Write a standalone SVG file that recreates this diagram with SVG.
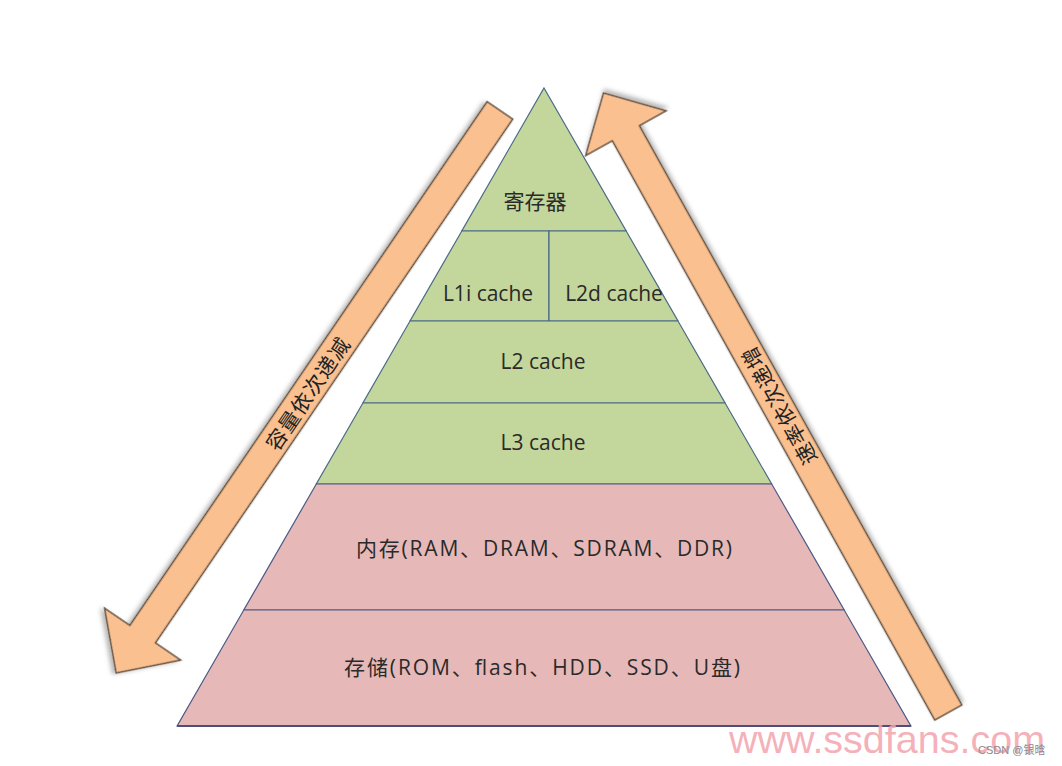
<svg xmlns="http://www.w3.org/2000/svg" width="1062" height="766" viewBox="0 0 1062 766">
<defs>
<filter id="sh" x="-10%" y="-10%" width="120%" height="120%">
<feDropShadow dx="2.5" dy="2.5" stdDeviation="2" flood-color="#000" flood-opacity="0.28"/>
</filter>
<style>
.g{fill:#c3d69b;stroke:#4a6a86;stroke-width:1.2}
.p{fill:#e6b9b8;stroke:#4a5a86;stroke-width:1.2}
.arr{fill:#fac08f;stroke:#5e4c3c;stroke-width:1.4;filter:url(#sh)}
.lat{font-family:"Open Sans","Noto Sans",sans-serif;font-size:21px;fill:#2a2a2a;text-anchor:middle}
.cjk{font-family:"Noto Sans CJK SC",sans-serif;font-size:21px;fill:#2a2a2a;text-anchor:middle}
.mix{font-family:"Open Sans","Noto Sans CJK SC",sans-serif;font-size:21px;fill:#2a2a2a;text-anchor:middle}
.al{font-family:"Noto Sans CJK SC",sans-serif;font-size:21px;fill:#222;text-anchor:middle;letter-spacing:1px;dominant-baseline:central}
</style>
</defs>
<rect width="1062" height="766" fill="#ffffff"/>
<g id="connectors">
<polygon class="arr" transform="translate(499.9,110.4) rotate(124.3)" points="0,-15.5 634,-15.5 634,-46 681,0 634,46 634,15.5 0,15.5"/>
<polygon class="arr" transform="translate(948.3,712.5) rotate(-119.1)" points="0,-15.5 663,-15.5 663,-46 709,0 663,46 663,15.5 0,15.5"/>
<text class="al" transform="translate(307,393) rotate(-55.7)">容量依次递减</text>
<text class="al" transform="translate(778,406) rotate(-119.1)">速率依次递增</text>
</g>
<g id="registers">
<polygon class="g" points="544,88 626.2,231 461.8,231"/>
<text class="cjk" x="535" y="209">寄存器</text>
</g>
<g id="l1i">
<polygon class="g" points="461.8,231 549,231 549,321 410,321"/>
<text class="lat" x="488" y="301">L1i cache</text>
</g>
<g id="l2d">
<polygon class="g" points="549,231 626.2,231 678,321 549,321"/>
<text class="lat" x="614" y="301">L2d cache</text>
</g>
<g id="l2">
<polygon class="g" points="410,321 678,321 725.1,403 362.9,403"/>
<text class="lat" x="543" y="369">L2 cache</text>
</g>
<g id="l3">
<polygon class="g" points="362.9,403 725.1,403 771.7,484 316.3,484"/>
<text class="lat" x="543" y="450">L3 cache</text>
</g>
<g id="memory">
<polygon class="p" points="316.3,484 771.7,484 844.2,610 243.8,610"/>
<text class="mix" x="544" y="556" textLength="376" lengthAdjust="spacing">内存(RAM、DRAM、SDRAM、DDR)</text>
</g>
<g id="storage">
<polygon class="p" points="243.8,610 844.2,610 910.9,726 177.1,726"/>
<line x1="177.1" y1="726" x2="910.9" y2="726" stroke="#4e4e7e" stroke-width="2"/>
<text class="mix" x="542" y="675" textLength="396" lengthAdjust="spacing">存储(ROM、flash、HDD、SSD、U盘)</text>
</g>
<text x="729" y="753" font-family="'Liberation Sans',Arial,sans-serif" font-size="39.5" fill="#f3a3ad" fill-opacity="0.85">www.ssdfans.com</text>
<text x="978" y="754" font-family="'Liberation Sans','Noto Sans CJK SC',sans-serif" font-size="11" fill="#8a8a8a">CSDN @银晗</text>
</svg>
